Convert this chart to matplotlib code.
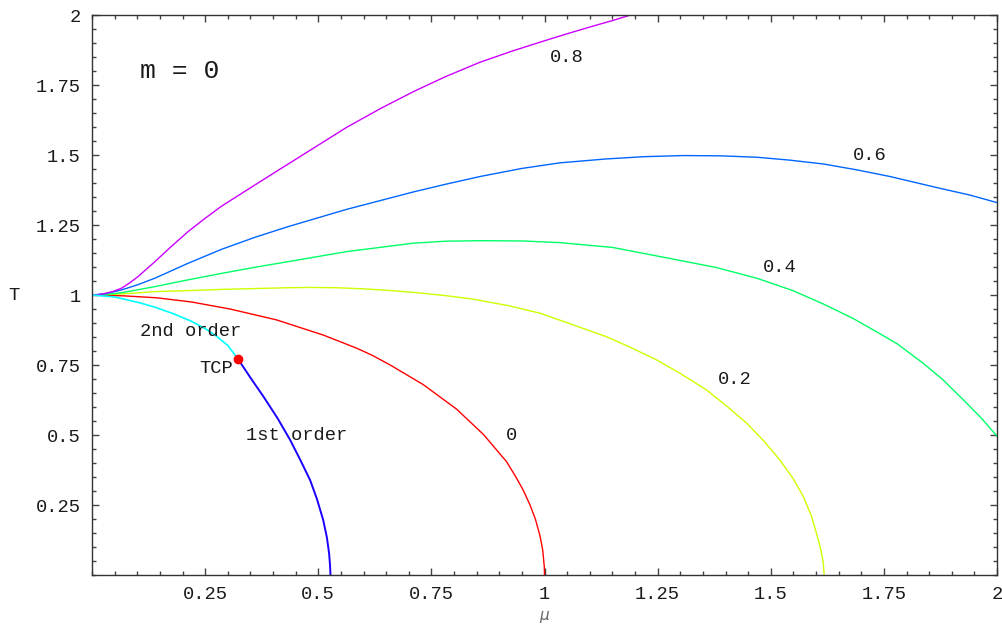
import numpy as np
import matplotlib
matplotlib.use('Agg')
import matplotlib.pyplot as plt
from matplotlib.ticker import MultipleLocator, FixedLocator

# ── phase boundaries T(mu) for m = 0, labelled by the parameter value ──
mu_0 = [0, 0.07, 0.143, 0.22, 0.305, 0.408, 0.511, 0.585, 0.62, 0.659, 0.732, 0.806, 0.865, 0.916,
        0.935, 0.953, 0.968, 0.98, 0.99, 0.996, 0.9995, 1.0]
T_0 = [1.0, 0.997, 0.990, 0.975, 0.950, 0.911, 0.857, 0.810, 0.784, 0.750, 0.680, 0.592, 0.502, 0.405,
       0.355, 0.303, 0.250, 0.199, 0.140, 0.090, 0.030, 0.0]

mu_02 = [0, 0.069, 0.139, 0.217, 0.286, 0.36, 0.433, 0.482, 0.54, 0.60, 0.66, 0.72, 0.78, 0.843, 0.92,
         0.990, 1.05, 1.137, 1.19, 1.248, 1.30, 1.358, 1.40, 1.447, 1.485, 1.520, 1.55, 1.572, 1.59,
         1.601, 1.61, 1.616, 1.618]
T_02 = [1.0, 1.004, 1.012, 1.016, 1.020, 1.023, 1.026, 1.027, 1.026, 1.022, 1.016, 1.008, 0.998, 0.985,
        0.962, 0.935, 0.901, 0.851, 0.813, 0.768, 0.720, 0.661, 0.607, 0.542, 0.478, 0.411, 0.343,
        0.280, 0.210, 0.149, 0.095, 0.045, 0.0]

mu_04 = [0, 0.03, 0.065, 0.139, 0.212, 0.286, 0.360, 0.433, 0.563, 0.710, 0.78, 0.857, 0.95, 1.034,
         1.15, 1.285, 1.38, 1.469, 1.55, 1.616, 1.68, 1.727, 1.78, 1.837, 1.88, 1.926, 1.965, 2.0]
T_04 = [1.0, 1.002, 1.008, 1.030, 1.054, 1.077, 1.099, 1.119, 1.155, 1.185, 1.192, 1.194, 1.193, 1.187,
        1.170, 1.128, 1.098, 1.060, 1.015, 0.968, 0.918, 0.875, 0.825, 0.756, 0.698, 0.625, 0.561, 0.496]

mu_06 = [0, 0.03, 0.065, 0.10, 0.139, 0.212, 0.286, 0.360, 0.433, 0.563, 0.710, 0.78, 0.857, 0.95,
         1.034, 1.137, 1.22, 1.307, 1.39, 1.469, 1.54, 1.616, 1.69, 1.764, 1.874, 1.94, 2.0]
T_06 = [1.0, 1.005, 1.018, 1.036, 1.060, 1.113, 1.163, 1.206, 1.244, 1.306, 1.368, 1.395, 1.423, 1.452,
        1.472, 1.486, 1.494, 1.498, 1.497, 1.492, 1.482, 1.468, 1.447, 1.423, 1.381, 1.357, 1.330]

mu_08 = [0, 0.015, 0.030, 0.045, 0.065, 0.083, 0.102, 0.12, 0.139, 0.175, 0.212, 0.25, 0.286, 0.360,
         0.415, 0.49, 0.563, 0.64, 0.710, 0.78, 0.857, 0.93, 1.008, 1.05, 1.10, 1.15, 1.19]
T_08 = [1.0, 1.001, 1.006, 1.012, 1.024, 1.043, 1.066, 1.092, 1.119, 1.173, 1.226, 1.274, 1.317, 1.393,
        1.449, 1.525, 1.599, 1.668, 1.726, 1.779, 1.831, 1.872, 1.912, 1.933, 1.957, 1.980, 2.0]

# m = 0, parameter 0 split into 2nd / 1st order parts
mu_2nd = [0, 0.05, 0.106, 0.14, 0.180, 0.22, 0.253, 0.275, 0.300, 0.322]
T_2nd = [1.0, 0.993, 0.972, 0.956, 0.933, 0.906, 0.877, 0.853, 0.820, 0.773]
mu_1st = [0.322, 0.35, 0.379, 0.41, 0.438, 0.46, 0.482, 0.497, 0.511, 0.519, 0.524, 0.526, 0.527]
T_1st = [0.773, 0.705, 0.637, 0.560, 0.482, 0.412, 0.339, 0.272, 0.196, 0.135, 0.077, 0.035, 0.0]
tcp = (0.322, 0.773)

tick_vals = [0.25, 0.5, 0.75, 1, 1.25, 1.5, 1.75, 2]
tick_labels = ['0.25', '0.5', '0.75', '1', '1.25', '1.5', '1.75', '2']

mono = 'Liberation Mono'
txt = '#1a1a1a'
fs = 13.5

fig = plt.figure(figsize=(10.02, 6.24), dpi=100)
ax = fig.add_axes([92 / 1002, 49 / 624, 905 / 1002, 560 / 624])

ax.plot(mu_0, T_0, color='#ff0000', lw=1.0)
ax.plot(mu_02, T_02, color='#ccff00', lw=1.0)
ax.plot(mu_04, T_04, color='#00ff66', lw=1.0)
ax.plot(mu_06, T_06, color='#0066ff', lw=1.0)
ax.plot(mu_08, T_08, color='#cc00ff', lw=1.0)
ax.plot(mu_2nd, T_2nd, color='#00ffff', lw=1.2)
ax.plot(mu_1st, T_1st, color='#1a00ff', lw=1.4)
ax.plot(*tcp, 'o', color='#ff0000', ms=6, zorder=5)

ax.text(0.194, 1.80, 'm = 0', fontsize=19, family=mono, color=txt, ha='center', va='center')
ax.text(1.050, 1.850, '0.8', fontsize=fs, family=mono, color=txt, ha='center', va='center')
ax.text(1.719, 1.500, '0.6', fontsize=fs, family=mono, color=txt, ha='center', va='center')
ax.text(1.520, 1.100, '0.4', fontsize=fs, family=mono, color=txt, ha='center', va='center')
ax.text(1.421, 0.700, '0.2', fontsize=fs, family=mono, color=txt, ha='center', va='center')
ax.text(0.928, 0.500, '0', fontsize=fs, family=mono, color=txt, ha='center', va='center')
ax.text(0.219, 0.871, '2nd order', fontsize=fs, family=mono, color=txt, ha='center', va='center')
ax.text(0.274, 0.739, 'TCP', fontsize=fs, family=mono, color=txt, ha='center', va='center')
ax.text(0.453, 0.500, '1st order', fontsize=fs, family=mono, color=txt, ha='center', va='center')

ax.set_xlim(0, 2)
ax.set_ylim(0, 2)
for axis in (ax.xaxis, ax.yaxis):
    axis.set_major_locator(FixedLocator(tick_vals))
    axis.set_minor_locator(MultipleLocator(0.05))
ax.set_xticklabels(tick_labels, family=mono, fontsize=fs, color=txt)
ax.set_yticklabels(tick_labels, family=mono, fontsize=fs, color=txt)
ax.tick_params(which='both', direction='in', top=True, right=True, color='#444444', width=1.0)
ax.tick_params(which='major', length=5, pad=8)
ax.tick_params(which='minor', length=3)
for s in ax.spines.values():
    s.set_color('#333333')
    s.set_linewidth(1.0)

ax.set_ylabel('T', family=mono, fontsize=fs, color=txt, rotation=0, labelpad=16, va='center')
ax.set_xlabel(r'$\mu$', fontsize=11, color='#666666', labelpad=4)

fig.savefig('out.png', dpi=100)
